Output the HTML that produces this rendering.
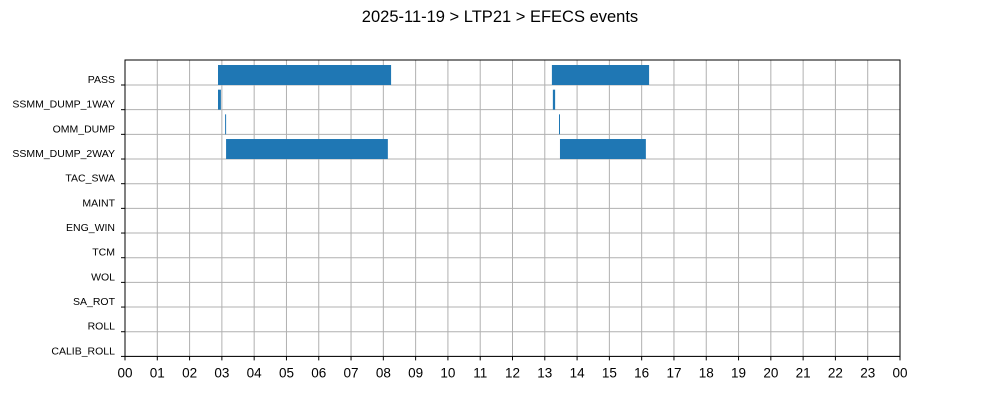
<!DOCTYPE html>
<html><head><meta charset="utf-8"><style>
body{margin:0;background:#fff;}
svg{display:block;font-family:"Liberation Sans","DejaVu Sans",sans-serif;}
</style></head><body>
<svg id="chart" width="1000" height="400">
<text x="500" y="22" text-anchor="middle" font-size="16.5" fill="#000">2025-11-19 &gt; LTP21 &gt; EFECS events</text>
<g id="grid"></g>
<g id="bars"></g>
<g id="axes"></g>
</svg>
<script>
const categories = ["PASS","SSMM_DUMP_1WAY","OMM_DUMP","SSMM_DUMP_2WAY","TAC_SWA","MAINT","ENG_WIN","TCM","WOL","SA_ROT","ROLL","CALIB_ROLL"];
const eventRows = [0,1,2,3,0,1,2,3];
const eventStarts = [2.88,2.88,3.10,3.13,13.22,13.25,13.44,13.47];
const eventEnds = [8.24,2.97,3.13,8.14,16.23,13.32,13.47,16.13];
const xTickLabels = ["00","01","02","03","04","05","06","07","08","09","10","11","12","13","14","15","16","17","18","19","20","21","22","23","00"];

const NS="http://www.w3.org/2000/svg";
const L=125,R=900,T=60,B=356.4;
const pitch=(B-85)/11;
function x(h){return L+(R-L)*h/24;}
function yTick(i){return 85+i*pitch;}
function mk(tag,attrs,parent){const e=document.createElementNS(NS,tag);for(const k in attrs)e.setAttribute(k,attrs[k]);parent.appendChild(e);return e;}
const grid=document.getElementById('grid'),bars=document.getElementById('bars'),axes=document.getElementById('axes');
xTickLabels.forEach((lab,i)=>{
  const gx=x(i);
  const g=mk('line',{x1:gx,x2:gx,y1:T,y2:B,stroke:'#b0b0b0','stroke-width':1},grid);
  
  
  const tk=mk('line',{x1:gx,x2:gx,y1:B,y2:B+4,stroke:'#000','stroke-width':1},axes);
  
  
  const t=mk('text',{x:gx,y:B+21,'text-anchor':'middle','font-size':13.5,fill:'#000'},axes);
  t.textContent=lab;
  
  
});
categories.forEach((c,i)=>{
  const gy=yTick(i);
  const g=mk('line',{x1:L,x2:R,y1:gy,y2:gy,stroke:'#b0b0b0','stroke-width':1},grid);
  
  
  const tk=mk('line',{x1:L-4,x2:L,y1:gy,y2:gy,stroke:'#000','stroke-width':1},axes);
  
  
  const t=mk('text',{x:L-10,y:gy-2,'text-anchor':'end','font-size':10.5,fill:'#000'},axes);
  t.textContent=c;
  
  
});
eventStarts.forEach((s,i)=>{
  const gy=yTick(eventRows[i]);
  const x0=x(s),x1=x(eventEnds[i]);
  const r=mk('rect',{x:x0,y:gy-20,width:Math.max(1,x1-x0),height:20,fill:'#1f77b4'},bars);
  
  
});
const fr=mk('rect',{x:L,y:T,width:R-L,height:B-T,fill:'none',stroke:'#000','stroke-width':1},axes);


</script>
</body></html>
